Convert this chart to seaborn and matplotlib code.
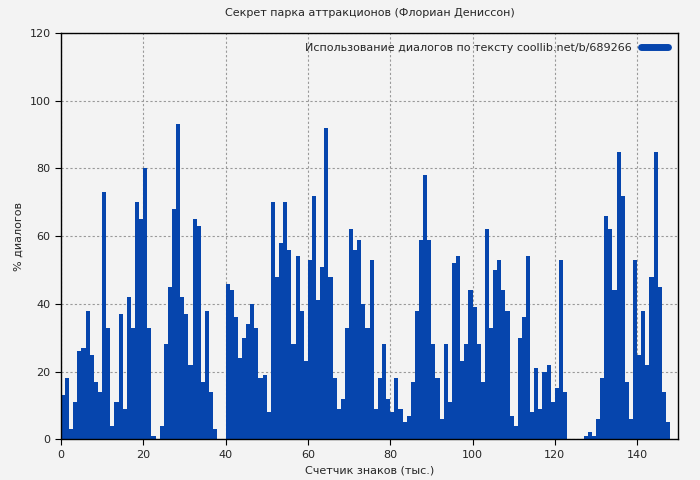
import numpy as np
import pandas as pd
import matplotlib
matplotlib.use('Agg')
import matplotlib.pyplot as plt
import seaborn as sns

# values per 1k chars
pos = list(range(0, 149))
vals = [13, 18, 3, 11, 26, 27, 38, 25, 17, 14,
        73, 33, 4, 11, 37, 9, 42, 33, 70, 65,
        80, 33, 1, 0, 4, 28, 45, 68, 93, 42,
        37, 22, 65, 63, 17, 38, 14, 3, 0, 0,
        46, 44, 36, 24, 30, 34, 40, 33, 18, 19,
        8, 70, 48, 58, 70, 56, 28, 54, 38, 23,
        53, 72, 41, 51, 92, 48, 18, 9, 12, 33,
        62, 56, 59, 40, 33, 53, 9, 18, 28, 12,
        8, 18, 9, 5, 7, 17, 38, 59, 78, 59,
        28, 18, 6, 28, 11, 52, 54, 23, 28, 44,
        39, 28, 17, 62, 33, 50, 53, 44, 38, 7,
        4, 30, 36, 54, 8, 21, 9, 20, 22, 11,
        15, 53, 14, 0, 0, 0, 0, 1, 2, 1,
        6, 18, 66, 62, 44, 85, 72, 17, 6, 53,
        25, 38, 22, 48, 85, 45, 14, 5, 0]

df = pd.DataFrame({'x': pos, 'v': vals})

sns.set_style('whitegrid')
plt.rcParams['font.family'] = ['DejaVu Sans']
fig, ax = plt.subplots(figsize=(7, 4.8), dpi=100)
fig.patch.set_facecolor('#f3f3f3')
ax.set_facecolor('#f3f3f3')

sns.histplot(data=df, x='x', weights='v', binwidth=1, binrange=(0, 149),
             color='#0645ad', alpha=1, linewidth=0, ax=ax)

ax.set_xlim(0, 150)
ax.set_ylim(0, 120)
ax.set_yticks(range(0, 121, 20))
ax.set_xticks(range(0, 141, 20))
ax.grid(True, color='#999999', linestyle=(0, (2, 2)), linewidth=0.8)
for s in ax.spines.values():
    s.set_color('black')
    s.set_linewidth(1)
ax.tick_params(axis='both', labelsize=8, length=4, color='black', left=True, bottom=True)
ax.set_xlabel('Счетчик знаков (тыс.)', fontsize=8)
ax.set_ylabel('% диалогов', fontsize=8)
ax.set_title('Секрет парка аттракционов (Флориан Дениссон)', fontsize=8, pad=12)

from matplotlib.lines import Line2D
h = Line2D([0], [0], color='#0645ad', linewidth=5)
leg = ax.legend([h], ['Использование диалогов по тексту coollib.net/b/689266'],
                loc='upper right', fontsize=8, frameon=False, markerfirst=False,
                handlelength=2.5)

plt.subplots_adjust(left=0.087, right=0.969, top=0.931, bottom=0.085)
fig.savefig('out.png', dpi=100, facecolor=fig.get_facecolor())
